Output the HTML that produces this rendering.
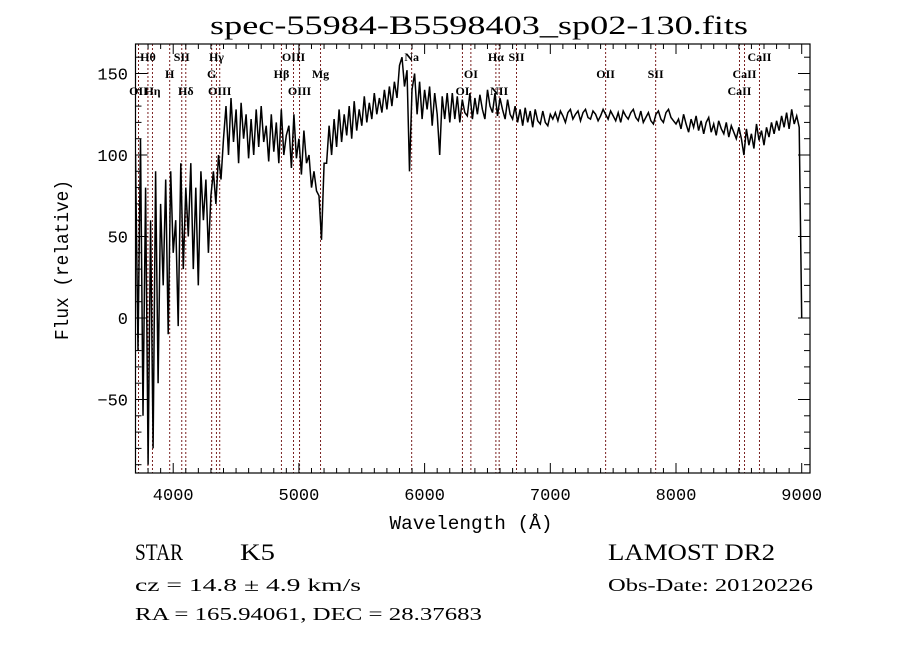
<!DOCTYPE html>
<html><head><meta charset="utf-8"><style>
html,body{margin:0;padding:0;background:#fff;}
svg{display:block;}
text{font-family:"Liberation Serif",serif;fill:#000;}
.m{font-family:"Liberation Mono",monospace;}
.lab{font-family:"Liberation Serif",serif;font-weight:bold;font-size:12px;}
</style></head><body>
<svg id="chart" width="900" height="649" viewBox="0 0 900 649" xmlns="http://www.w3.org/2000/svg">
<rect width="900" height="649" fill="#fff"/>
<text x="479" y="34" font-size="26" text-anchor="middle" textLength="538" lengthAdjust="spacingAndGlyphs">spec-55984-B5598403_sp02-130.fits</text>
<g id="lines"></g>
<g id="labels"></g>
<g id="series"></g>
<g id="axes"></g>
<text x="471" y="529" font-size="19" text-anchor="middle" class="m" textLength="163" lengthAdjust="spacingAndGlyphs">Wavelength (Å)</text>
<text transform="translate(68,260) rotate(-90)" font-size="19" text-anchor="middle" class="m" textLength="160" lengthAdjust="spacingAndGlyphs">Flux (relative)</text>
<text x="135" y="560" font-size="23" textLength="48" lengthAdjust="spacingAndGlyphs">STAR</text>
<text x="240" y="560" font-size="23" textLength="35" lengthAdjust="spacingAndGlyphs">K5</text>
<text x="608" y="560" font-size="23" textLength="167" lengthAdjust="spacingAndGlyphs">LAMOST DR2</text>
<text x="135" y="591" font-size="18" textLength="226" lengthAdjust="spacingAndGlyphs">cz = 14.8 ± 4.9 km/s</text>
<text x="608" y="591" font-size="18" textLength="205" lengthAdjust="spacingAndGlyphs">Obs-Date: 20120226</text>
<text x="135" y="620" font-size="18" textLength="347" lengthAdjust="spacingAndGlyphs">RA = 165.94061, DEC =  28.37683</text>
</svg>
<script>
const wlStart = 3700;
const wlStep = 20;
const flux = [100,-20,110,-60,80,-90,60,-80,90,-40,70,
20,85,-10,90,40,60,-5,95,30,80,
50,95,30,80,20,90,60,85,40,75,
90,70,100,85,110,
130,100,135,108,128,95,132,110,125,98,
122,100,128,105,130,108,118,96,125,102,120,95,128,100,112,
118,92,125,98,110,88,115,95,100,80,
90,78,75,48,95,
95,118,100,122,105,128,108,125,112,130,110,133,115,128,118,136,120,132,122,138,125,135,126,140,128,142,130,145,135,155,
160,142,152,90,140,
150,125,145,122,140,128,142,118,138,125,100,136,122,138,120,
138,122,136,120,134,126,124,138,122,135,125,137,128,122,140,130,126,138,124,135,128,122,134,125,122,
130,120,128,118,129,120,127,117,128,121,119,127,120,118,125,
122,126,121,127,124,120,126,128,122,125,127,121,126,128,123,122,127,125,121,124,128,125,122,127,124,121,126,120,127,124,122,126,128,123,121,127,120,123,126,121,119,125,127,122,120,126,128,123,121,119,
122,116,125,119,114,122,117,124,115,121,113,120,123,114,119,112,121,116,113,120,111,118,114,110,117,
110,100,116,106,113,104,119,109,115,106,117,111,120,113,121,115,124,117,126,116,128,119,124,117,0];
const lineNames = ["OII","Hθ","Hη","H","SII","Hδ","G","Hγ","OIII","Hβ","OIII","OIII","Mg","Na","OI","OI","Hα","NII","SII","OII","SII","CaII","CaII","CaII"];
const lineWl = [3724,3799,3835,3972,4068,4100,4306,4344,4370,4861,4957,5005,5172,5897,6301,6368,6567,6593,6731,7440,7838,8505,8545,8664];
const lineRow = [2,0,2,1,0,2,1,0,2,1,0,2,1,0,2,1,0,2,0,1,1,2,1,0];
const xTicks = [4000,5000,6000,7000,8000,9000];
const yTicks = [-50,0,50,100,150];

const NS="http://www.w3.org/2000/svg";
const L=135.5,R=810,T=44,B=473;
const X=w=>L+(w-3700)*0.1257;
const Y=f=>318-f*1.63;
function mk(tag,attrs,parent){const e=document.createElementNS(NS,tag);for(const k in attrs)e.setAttribute(k,attrs[k]);parent.appendChild(e);return e;}
const gL=document.getElementById('lines'),gB=document.getElementById('labels'),gS=document.getElementById('series'),gA=document.getElementById('axes');
const rowY=[61,78,95];
lineWl.forEach((w,i)=>{
  const ln=mk('line',{x1:X(w),x2:X(w),y1:T,y2:B,stroke:'#7a2020','stroke-width':1,'stroke-dasharray':'2,2'},gL);
  
  
  const t=mk('text',{x:X(w),y:rowY[lineRow[i]],'text-anchor':'middle',class:'lab'},gB);
  t.textContent=lineNames[i];
  
  
});
const cp=mk('clipPath',{id:'pc'},gS);mk('rect',{x:L,y:T,width:R-L,height:B-T},cp);
const pts=flux.map((f,i)=>X(wlStart+i*wlStep).toFixed(1)+','+Y(f).toFixed(1)).join(' ');
const pl=mk('polyline',{points:pts,fill:'none',stroke:'#000','stroke-width':1.5,'clip-path':'url(#pc)'},gS);


const fr=mk('rect',{x:L,y:T,width:R-L,height:B-T,fill:'none',stroke:'#000','stroke-width':1.2},gA);


for(let w=3700;w<=9072;w+=100){
  const big=w%1000===0,len=big?10:5;
  mk('line',{x1:X(w),x2:X(w),y1:B,y2:B-len,stroke:'#000'},gA);
  mk('line',{x1:X(w),x2:X(w),y1:T,y2:T+len,stroke:'#000'},gA);
}
for(let f=-90;f<=168;f+=10){
  const big=f%50===0,len=big?12:6;
  mk('line',{x1:L,x2:L+len,y1:Y(f),y2:Y(f),stroke:'#000'},gA);
  mk('line',{x1:R,x2:R-len,y1:Y(f),y2:Y(f),stroke:'#000'},gA);
}
xTicks.forEach(v=>{const t=mk('text',{x:X(v),y:500,'text-anchor':'middle','font-size':17,class:'m'},gA);t.textContent=String(v);
  
  });
yTicks.forEach(v=>{const t=mk('text',{x:128,y:Y(v)+6,'text-anchor':'end','font-size':17,class:'m'},gA);t.textContent=v<0?'−'+(-v):String(v);
  
  });
</script>
</body></html>
